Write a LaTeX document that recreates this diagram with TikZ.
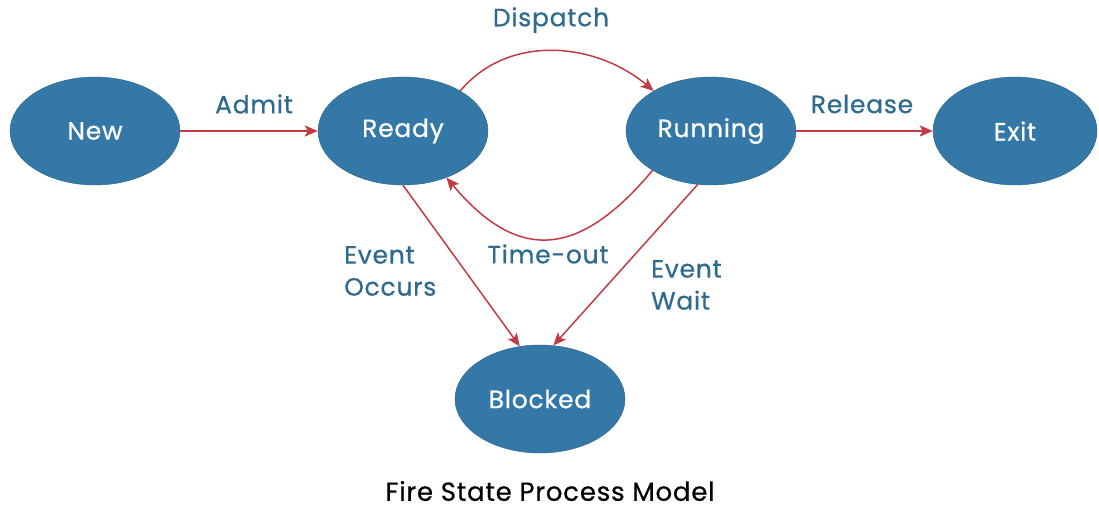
\documentclass[tikz,border=0pt]{standalone}
\usepackage{fontspec}
\setmainfont{Poppins}
\newfontfamily\diagfont{Poppins}[FakeBold=0.6,LetterSpace=3]
\usetikzlibrary{arrows.meta,shapes.geometric}
\definecolor{statefill}{HTML}{3478A8}
\definecolor{labelblue}{HTML}{2E6A8E}
\definecolor{edgered}{HTML}{C23B44}
\begin{document}
\begin{tikzpicture}[x=1pt,y=-1pt,
  state/.style={ellipse,fill=statefill,draw=statefill!80!black,line width=0.4pt,
    minimum width=170pt,minimum height=108pt,inner sep=0pt,
    text=white,font=\diagfont\fontsize{25}{28}\selectfont},
  trans/.style={draw=edgered,line width=1.5pt,
    -{Stealth[length=13pt,width=11pt,inset=3pt]}},
  thick trans/.style={trans,line width=2.6pt},
  lbl/.style={text=labelblue,font=\diagfont\fontsize{25}{32}\selectfont,inner sep=0pt}]
\useasboundingbox (0,0) rectangle (1099,511);

% process states
\node[state] (new)     at (95,131)  {New};
\node[state] (ready)   at (403,131) {Ready};
\node[state] (running) at (711,131) {Running};
\node[state,minimum width=164pt] (exit) at (1015,131) {Exit};
\node[state] (blocked) at (540,399) {Blocked};

% transitions
\draw[thick trans] (new.east) -- (ready.west);
\draw[thick trans] (running.east) -- (exit.west);
\draw[trans] (ready.35) to[out=50,in=140] (running.145);
\draw[trans] (running.214) to[out=230,in=310,looseness=1.4] (ready.313);
\draw[trans] (ready.south) -- (blocked.111);
\draw[trans] (running.256) -- (blocked.76);

% transition labels
\node[lbl] (admit)    at (254,104) {Admit};
\node[lbl] (dispatch) at (551,20)  {Dispatch};
\node[lbl] (release)  at (862,104) {Release};
\node[lbl] (timeout)  at (548,254) {Time-out};
\node[lbl,align=left,anchor=west] (occurs) at (344,271) {Event\\Occurs};
\node[lbl,align=left,anchor=west] (wait)   at (651,285) {Event\\Wait};

% caption
\node[font=\diagfont\fontsize{26}{30}\selectfont,inner sep=0pt] (caption) at (550,491) {Fire State Process Model};
\end{tikzpicture}
\end{document}
